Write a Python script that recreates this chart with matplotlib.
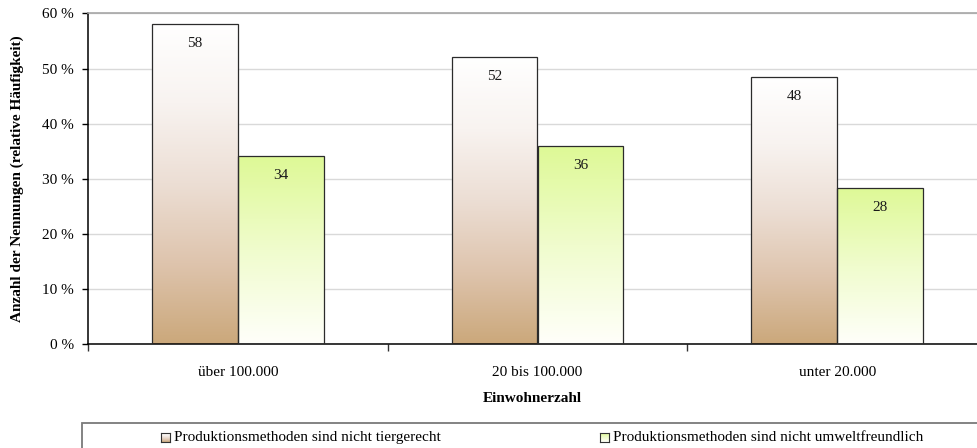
import numpy as np
import matplotlib
matplotlib.use("Agg")
import matplotlib.pyplot as plt
from matplotlib.colors import LinearSegmentedColormap
from matplotlib.patches import Rectangle

# Data
categories = ["über 100.000", "20 bis 100.000", "unter 20.000"]
series_names = ["Produktionsmethoden sind nicht tiergerecht",
                "Produktionsmethoden sind nicht umweltfreundlich"]
tiergerecht = [58.1, 52.1, 48.4]
umweltfreundlich = [34.1, 35.9, 28.4]
y_ticks = [0, 10, 20, 30, 40, 50, 60]
y_ticklabels = ["0 %", "10 %", "20 %", "30 %", "40 %", "50 %", "60 %"]

plt.rcParams["font.family"] = ["Liberation Serif", "DejaVu Serif"]
FS = 11

# Vertical colour ramps (0 = bar bottom, 1 = bar top)
cmap_tier = LinearSegmentedColormap.from_list("tier", [
    (0.00, (203/255, 168/255, 123/255)),
    (0.25, (222/255, 196/255, 173/255)),
    (0.50, (236/255, 222/255, 212/255)),
    (0.75, (248/255, 243/255, 240/255)),
    (1.00, (1.0, 1.0, 1.0)),
])
cmap_umwelt = LinearSegmentedColormap.from_list("umwelt", [
    (0.00, (1.0, 1.0, 0.98)),
    (0.50, (240/255, 252/255, 205/255)),
    (1.00, (222/255, 249/255, 150/255)),
])

W, H, DPI = 977, 448, 100
fig = plt.figure(figsize=(W / DPI, H / DPI), dpi=DPI)

left_px, right_px = 88, 987
top_px, bottom_px = 13.5, 344
ax = fig.add_axes([left_px / W, 1 - bottom_px / H,
                   (right_px - left_px) / W, (bottom_px - top_px) / H])

x = np.arange(len(categories))
bw = 0.286
grad = np.linspace(0, 1, 256).reshape(-1, 1)


def gradient_bars(xpos, values, cmap):
    bars = ax.bar(xpos, values, width=bw, facecolor="none",
                  edgecolor="#2b2b2b", linewidth=0.9, zorder=3)
    for b in bars:
        x0, y0 = b.get_x(), b.get_y()
        im = ax.imshow(grad, cmap=cmap, origin="lower", aspect="auto",
                       extent=[x0, x0 + b.get_width(), y0, y0 + b.get_height()],
                       zorder=2, interpolation="bicubic")
        im.set_clip_path(b)
        ax.annotate(f"{b.get_height():.0f}",
                    xy=(x0 + b.get_width() / 2, b.get_height()),
                    xytext=(0, -14), textcoords="offset points",
                    ha="center", va="center", fontsize=FS, color="#1a1a1a",
                    zorder=4)
    return bars


gradient_bars(x - bw / 2, tiergerecht, cmap_tier)
gradient_bars(x + bw / 2, umweltfreundlich, cmap_umwelt)

ax.set_xlim(-0.5, len(categories) - 0.5)
ax.set_ylim(0, 60)

# Axes styling
ax.set_yticks(y_ticks)
ax.set_yticklabels(y_ticklabels, fontsize=FS)
ax.yaxis.grid(True, color="#d9d9d9", linewidth=1.0, zorder=0)
ax.set_axisbelow(True)
ax.tick_params(axis="y", direction="out", length=4, width=1, color="black", pad=6)

ax.set_xticks(np.arange(len(categories) + 1) - 0.5)
ax.set_xticklabels([])
ax.set_xticks(x, minor=True)
ax.set_xticklabels(categories, minor=True, fontsize=FS)
ax.tick_params(axis="x", which="major", direction="out", length=5, width=1, color="#333333")
ax.tick_params(axis="x", which="minor", length=0, pad=16)

ax.spines["right"].set_visible(False)
ax.spines["top"].set_color("#a6a6a6")
ax.spines["top"].set_linewidth(1.2)
for s in ("left", "bottom"):
    ax.spines[s].set_color("black")
    ax.spines[s].set_linewidth(1.1)

ax.set_ylabel("Anzahl der Nennungen (relative Häufigkeit)", fontsize=FS,
              fontweight="bold", labelpad=13)
fig.text(532 / W, 1 - 398 / H, "Einwohnerzahl", fontsize=FS, fontweight="bold",
         ha="center", va="center")

# Legend box drawn in figure pixels
fig.patches.append(Rectangle((82 / W, -0.2), 1.1, (1 - 422.5 / H) + 0.2,
                             transform=fig.transFigure, facecolor="white",
                             edgecolor="#7a7a7a", linewidth=1.3, zorder=-1))

legend_items = [(series_names[0], cmap_tier, 161), (series_names[1], cmap_umwelt, 600)]
for name, cmap, sx in legend_items:
    sq = fig.add_axes([sx / W, 1 - 442 / H, 9 / W, 9 / H])
    sq.set_zorder(5)
    sq.imshow(grad, cmap=cmap, origin="lower", aspect="auto", extent=[0, 1, 0, 1])
    sq.set_xticks([])
    sq.set_yticks([])
    for sp in sq.spines.values():
        sp.set_color("#333333")
        sp.set_linewidth(0.8)
    fig.text((sx + 13) / W, 1 - 437.5 / H, name, fontsize=FS,
             ha="left", va="center")

fig.savefig("out.png", dpi=DPI)
